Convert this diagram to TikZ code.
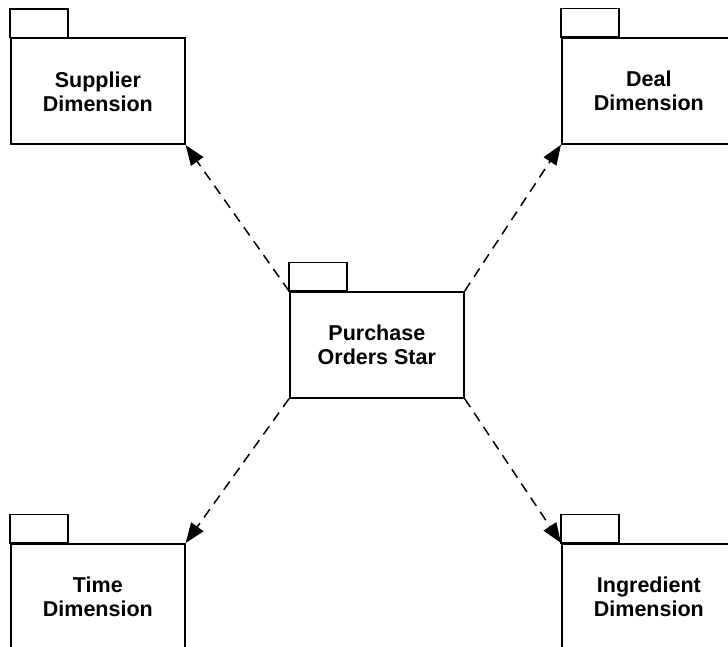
\documentclass[tikz,border=0pt]{standalone}
\usepackage{fontspec}
\setmainfont{Liberation Sans}
\usetikzlibrary{arrows.meta}
\begin{document}
\begin{tikzpicture}[x=1pt,y=-1pt,
  pkg/.style={draw=black, line width=1.7pt, rectangle, fill=white,
    minimum width=174pt, minimum height=106pt, inner sep=0pt, anchor=north west,
    align=center, font=\fontsize{21.5}{24}\selectfont\bfseries},
  pkgtab/.style={draw=black, line width=1.7pt, fill=white},
  dep/.style={draw=black, line width=1.5pt, dash pattern=on 10pt off 7pt,
    -{Triangle[length=20pt,width=15pt]}}]
\useasboundingbox (0,0) rectangle (728,647);
% package bodies
\node[pkg] (supplier) at (10,37.5) {Supplier\\Dimension};
\node[pkg] (deal) at (561,37) {Deal\\Dimension};
\node[pkg] (star) at (289,291) {Purchase\\Orders Star};
\node[pkg] (time) at (10,543) {Time\\Dimension};
\node[pkg] (ingredient) at (561,543) {Ingredient\\Dimension};
% package tabs
\foreach \p in {supplier,deal,star,time,ingredient}
  \draw[pkgtab] (\p.north west) rectangle ++(58,-28.5);
% dependencies
\draw[dep] (star.north west) -- (supplier.south east);
\draw[dep] (star.north east) -- (deal.south west);
\draw[dep] (star.south west) -- (time.north east);
\draw[dep] (star.south east) -- (ingredient.north west);
\end{tikzpicture}
\end{document}
